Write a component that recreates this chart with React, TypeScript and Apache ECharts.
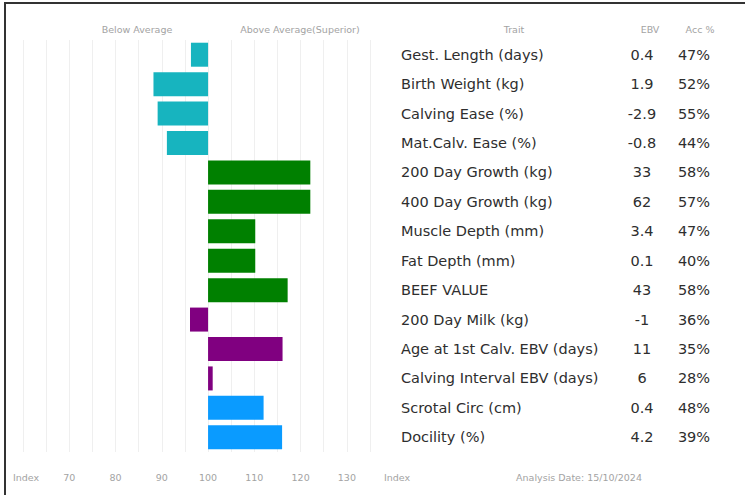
import React, { useEffect, useRef } from "react";
import * as echarts from "echarts";

const traits = [
  "Gest. Length (days)",
  "Birth Weight (kg)",
  "Calving Ease (%)",
  "Mat.Calv. Ease (%)",
  "200 Day Growth (kg)",
  "400 Day Growth (kg)",
  "Muscle Depth (mm)",
  "Fat Depth (mm)",
  "BEEF VALUE",
  "200 Day Milk (kg)",
  "Age at 1st Calv. EBV (days)",
  "Calving Interval EBV (days)",
  "Scrotal Circ (cm)",
  "Docility (%)",
];
const ebv = ["0.4", "1.9", "-2.9", "-0.8", "33", "62", "3.4", "0.1", "43", "-1", "11", "6", "0.4", "4.2"];
const acc = ["47%", "52%", "55%", "44%", "58%", "57%", "47%", "40%", "58%", "36%", "35%", "28%", "48%", "39%"];
const indexValues = [96.3, 88.2, 89.1, 91.1, 122.1, 122.1, 110.2, 110.2, 117.2, 96.1, 116.1, 101.0, 112.0, 116.0];
const groupOf = [0, 0, 0, 0, 1, 1, 1, 1, 1, 2, 2, 2, 3, 3];
const groupColors = ["#17b4bf", "#008000", "#800080", "#0a9bff"];
const BASE = 100;

export default function App() {
  const ref = useRef<HTMLDivElement>(null);
  useEffect(() => {
    if (!ref.current) return;
    const chart = echarts.init(ref.current, undefined, { renderer: "svg" });
    const font = "'DejaVu Sans', sans-serif";
    const small = { fontSize: 9.5, fill: "#a3a3a3", fontFamily: font, textAlign: "center", textVerticalAlign: "middle" };
    const rowFont = 14.5;
    chart.setOption({
      animation: false,
      backgroundColor: "#ffffff",
      grid: { left: 23, right: 375, top: 40, bottom: 43 },
      xAxis: {
        type: "value",
        min: -40,
        max: 35,
        interval: 5,
        axisLine: { show: false },
        axisTick: { show: false },
        splitLine: { show: true, lineStyle: { color: "#efefef", width: 1 } },
        axisLabel: {
          margin: 20,
          fontSize: 9.5,
          color: "#a3a3a3",
          fontFamily: font,
          formatter: (v: number) => {
            const idx = v + BASE;
            return idx % 10 === 0 && idx >= 70 && idx <= 130 ? String(idx) : "";
          },
        },
      },
      yAxis: {
        type: "category",
        data: traits,
        inverse: true,
        position: "right",
        axisLine: { show: false },
        axisTick: { show: false },
        splitLine: { show: false },
        axisLabel: {
          margin: 31,
          align: "left",
          formatter: (val: string, i: number) =>
            `{t|${val}}{e|${ebv[i]}}{a|${acc[i]}}`,
          rich: {
            t: { width: 224, fontSize: rowFont, color: "#2e2e2e", fontFamily: font, align: "left" },
            e: { width: 34, fontSize: rowFont, color: "#2e2e2e", fontFamily: font, align: "center" },
            a: { width: 70, fontSize: rowFont, color: "#2e2e2e", fontFamily: font, align: "center" },
          },
        },
      },
      series: [
        {
          type: "bar",
          barWidth: 24,
          data: indexValues.map((v, i) => ({
            value: +(v - BASE).toFixed(2),
            itemStyle: { color: groupColors[groupOf[i]] },
          })),
        },
      ],
      graphic: [
        {
          type: "rect",
          shape: { x: 5, y: 3, width: 800, height: 600 },
          style: { fill: "none", stroke: "#333333", lineWidth: 2 },
          silent: true,
        },
        { type: "text", x: 137, y: 29, style: { ...small, text: "Below Average" } },
        { type: "text", x: 300, y: 29, style: { ...small, text: "Above Average(Superior)" } },
        { type: "text", x: 514, y: 29, style: { ...small, text: "Trait" } },
        { type: "text", x: 650, y: 29, style: { ...small, text: "EBV" } },
        { type: "text", x: 700, y: 29, style: { ...small, text: "Acc %" } },
        { type: "text", x: 26, y: 477, style: { ...small, text: "Index" } },
        { type: "text", x: 397, y: 477, style: { ...small, text: "Index" } },
        { type: "text", x: 579, y: 477, style: { ...small, text: "Analysis Date: 15/10/2024" } },
      ],
    });
    return () => chart.dispose();
  }, []);
  return (
    <div
      ref={ref}
      style={{ position: "fixed", left: 0, top: 0, width: 745, height: 495 }}
    />
  );
}
